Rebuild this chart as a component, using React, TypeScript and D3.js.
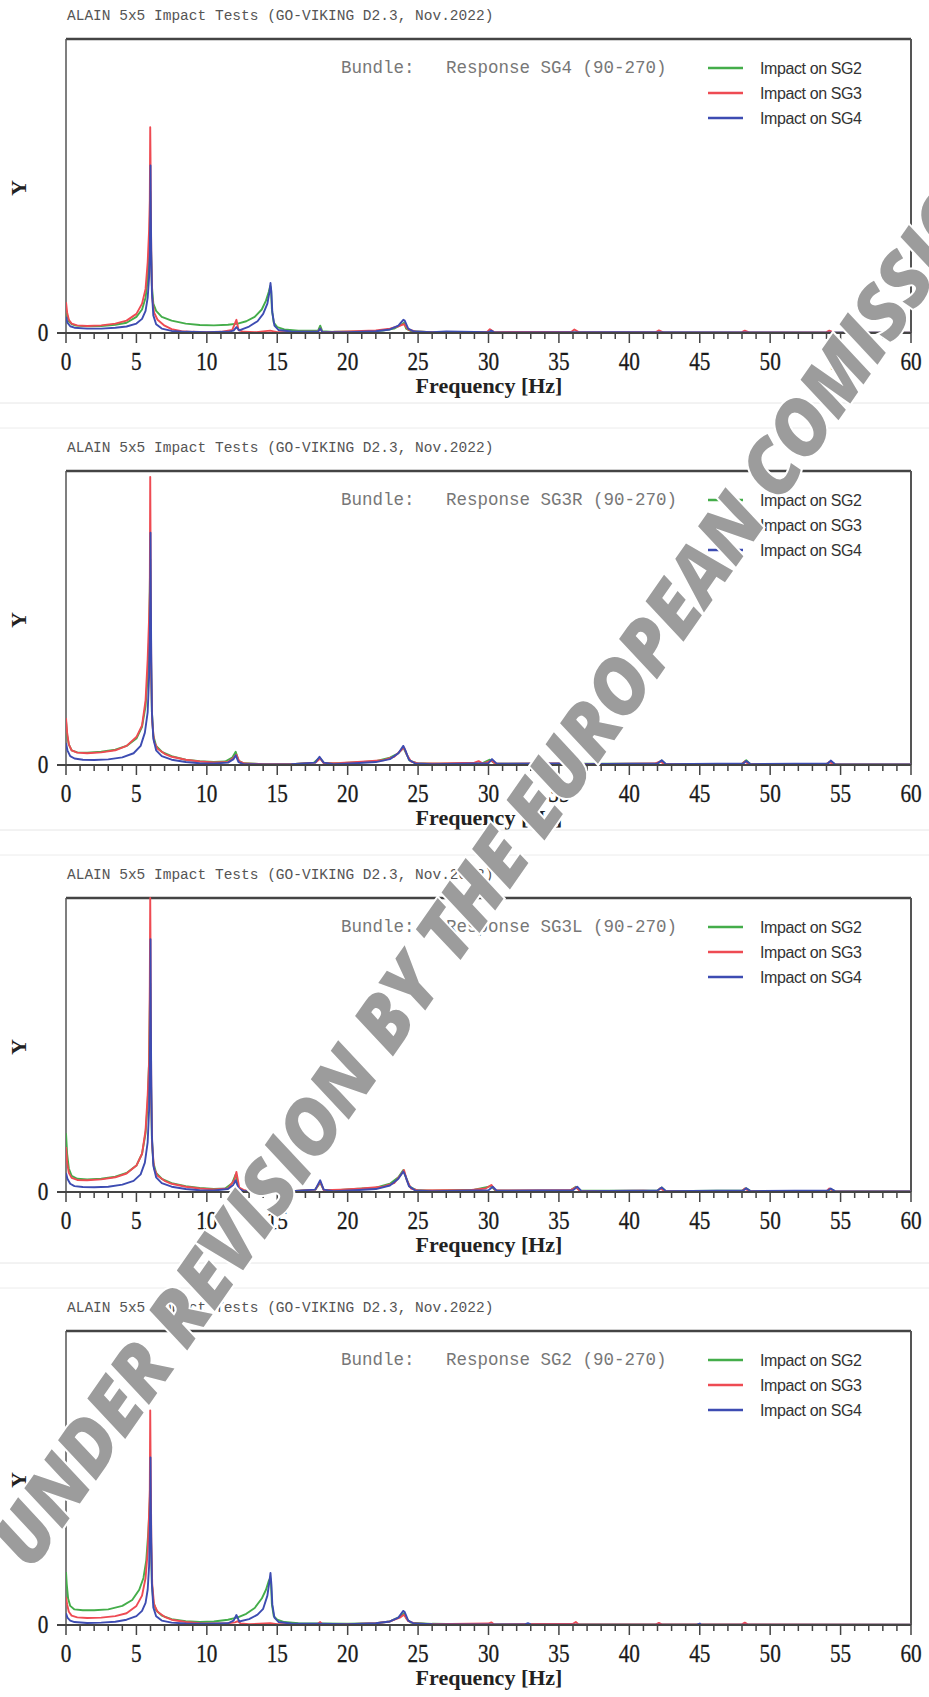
import React from "react";
import * as d3 from "d3";

// ---------- data ----------
const panelTitles = ["Response SG4", "Response SG3R", "Response SG3L", "Response SG2"];
const seriesLabels = ["Impact on SG2", "Impact on SG3", "Impact on SG4"];
const seriesColors = ["#44ad4a", "#ee4b53", "#3d4cb2"];
const xTicks = [0, 5, 10, 15, 20, 25, 30, 35, 40, 45, 50, 55, 60];
const chartTitle = "ALAIN 5x5 Impact Tests (GO-VIKING D2.3, Nov.2022)";

// Panel 1 — Response SG4
const p1Green: [number, number][] = [[0,8],[0.08,6],[0.2,4],[0.4,3],[0.7,2.5],[1.5,2.3],[2.5,2.4],[3.5,2.8],[4.3,3.5],[5,5.5],[5.4,8],[5.65,12],[5.8,18],[5.9,26],[5.95,36],[5.98,48],[6.01,42],[6.04,28],[6.1,16],[6.2,10],[6.4,7.5],[6.8,5.5],[7.5,4.2],[8.5,3.2],[9.5,2.7],[10.5,2.6],[11.5,2.8],[12.2,3.2],[12.8,4],[13.4,5.5],[13.9,8],[14.2,11],[14.4,14],[14.5,16],[14.56,15],[14.62,8],[14.75,3.5],[15,2],[15.5,1.2],[16.5,0.8],[17.9,0.8],[18.05,2.5],[18.2,0.6],[19,0.4],[21,0.5],[22.5,0.8],[23.3,1.5],[23.8,2.8],[24.0,3.5],[24.15,1.5],[24.5,0.6],[26,0.3],[30,0.2],[40,0.1],[60,0.1]];
const p1Red: [number, number][] = [[0,10.5],[0.08,7],[0.2,4.5],[0.4,3.2],[0.8,2.6],[1.5,2.4],[2.5,2.6],[3.5,3.2],[4.3,4.2],[5,6.5],[5.4,10],[5.65,15],[5.8,24],[5.9,35],[5.95,45],[5.98,70],[6.0,60],[6.02,44],[6.06,25],[6.12,12],[6.25,7],[6.5,4.5],[7,2.5],[7.5,1.3],[8.2,0.6],[9,0.4],[10,0.3],[11,0.4],[11.8,1],[12.1,4.5],[12.25,1],[12.6,0.4],[13.5,0.3],[14.5,0.8],[15,0.3],[17.9,0.5],[18.05,1.5],[18.2,0.3],[20,0.5],[22,0.9],[23,1.5],[23.6,2.3],[24.0,3],[24.3,1.2],[24.8,0.5],[26,0.3],[29.9,0.4],[30.1,1.3],[30.4,0.3],[35.9,0.4],[36.1,1.2],[36.4,0.3],[41.9,0.3],[42.1,0.9],[42.4,0.2],[48,0.3],[48.2,0.8],[48.5,0.2],[54,0.3],[54.2,0.8],[54.5,0.2],[60,0.1]];
const p1Blue: [number, number][] = [[0,5.5],[0.1,3.5],[0.3,2.3],[0.6,1.8],[1.5,1.5],[2.5,1.5],[3.5,1.8],[4.3,2.2],[5,3.2],[5.4,4.8],[5.65,7.5],[5.8,12],[5.9,19],[5.95,26],[5.98,40],[6.0,57],[6.02,42],[6.05,28],[6.1,14],[6.2,6],[6.4,3],[6.8,1.5],[7.5,0.7],[8.5,0.4],[10,0.3],[11.5,0.4],[11.9,0.8],[12.1,2],[12.3,0.9],[13,2.2],[13.6,4],[14,6.5],[14.3,10],[14.45,14],[14.52,17],[14.58,14],[14.65,7],[14.8,2.5],[15.1,1],[16,0.5],[17.9,0.4],[18.05,1.5],[18.2,0.3],[20,0.3],[22,0.6],[23,1.2],[23.6,2.5],[23.95,4.5],[24.05,4.2],[24.3,1.5],[24.7,0.5],[26,0.3],[27,0.5],[30,0.3],[30.2,0.8],[30.4,0.2],[39,0.3],[60,0.1]];

// Panel 2 — Response SG3R
const p2Green: [number, number][] = [[0,15],[0.08,10],[0.2,7],[0.4,5],[0.8,4.3],[1.5,4.2],[2.5,4.5],[3.5,5.2],[4.3,6.5],[5,9],[5.4,13],[5.65,20],[5.8,30],[5.9,43],[5.95,60],[5.98,70],[6.01,52],[6.04,35],[6.1,18],[6.2,10],[6.4,6.5],[6.8,4.5],[7.5,3],[8.5,1.8],[9.5,1.3],[10.5,1],[11.3,1.2],[11.8,2.5],[12.05,4.5],[12.25,1.5],[12.6,0.6],[14,0.3],[16,0.3],[17.6,0.8],[18,2.5],[18.3,0.8],[19,0.5],[20.5,0.9],[22,1.3],[23,2.5],[23.6,4],[23.95,6],[24.1,4.5],[24.4,1.5],[24.9,0.6],[26,0.4],[29.5,0.5],[30.1,1.8],[30.5,0.4],[35.8,0.5],[36.1,2],[36.5,0.4],[42,0.4],[42.3,1.5],[42.6,0.3],[48,0.4],[48.3,1.6],[48.6,0.3],[54,0.3],[54.3,1.2],[54.6,0.3],[60,0.2]];
const p2Red: [number, number][] = [[0,16],[0.08,11],[0.2,7],[0.4,5],[0.8,4.2],[1.5,4],[2.5,4.3],[3.5,5],[4.3,6.5],[5,9.5],[5.4,13.5],[5.65,22],[5.8,36],[5.9,50],[5.95,59],[5.98,98],[6.0,80],[6.02,55],[6.06,30],[6.12,15],[6.25,8],[6.5,5.5],[7,3.8],[7.5,2.8],[8.5,1.8],[9.5,1.2],[10.5,0.9],[11.5,1],[11.9,2.5],[12.1,3.5],[12.3,1.2],[12.7,0.5],[14,0.3],[16,0.3],[17.7,0.8],[18.05,2.2],[18.3,0.6],[19.5,0.7],[21,1.1],[22.5,1.6],[23.3,2.8],[23.8,5],[24.0,6],[24.2,3.5],[24.5,1.2],[25,0.5],[26.5,0.5],[29,0.8],[29.3,1.3],[29.6,0.5],[30.2,1.5],[30.5,0.4],[36,0.6],[36.2,1.3],[36.5,0.3],[41.8,0.5],[42.2,1.2],[42.5,0.3],[48,0.3],[48.2,1.2],[48.5,0.3],[54,0.3],[54.2,1],[54.5,0.3],[60,0.2]];
const p2Blue: [number, number][] = [[0,7.5],[0.1,5],[0.3,3],[0.6,2.2],[1.2,1.8],[2,1.7],[3,1.9],[4,2.6],[4.8,4],[5.3,6.5],[5.6,11],[5.8,18],[5.9,30],[5.95,43],[5.98,56],[6.0,79],[6.02,60],[6.05,38],[6.1,18],[6.2,9],[6.4,5],[6.8,3],[7.5,1.8],[8.5,1],[9.5,0.6],[10.5,0.5],[11.5,0.8],[11.9,2],[12.05,3.3],[12.25,1],[12.6,0.3],[14,0.2],[16,0.3],[17.7,0.8],[18.0,2.8],[18.3,0.8],[19,0.3],[20.5,0.6],[22,1],[23,2],[23.6,4],[23.95,6.5],[24.1,5],[24.35,1.8],[24.8,0.5],[26,0.3],[30,0.6],[30.25,2],[30.6,0.4],[36,0.5],[36.3,1.2],[36.6,0.3],[42,0.5],[42.3,1.6],[42.6,0.3],[48.1,0.5],[48.3,1.4],[48.6,0.3],[54.1,0.5],[54.3,1.5],[54.6,0.3],[60,0.2]];

// Panel 3 — Response SG3L
const p3Green: [number, number][] = [[0,20],[0.08,13],[0.2,8],[0.4,5.5],[0.8,4.5],[1.5,4.3],[2.5,4.5],[3.5,5.2],[4.3,6.5],[5,9],[5.4,13],[5.65,20],[5.8,30],[5.9,45],[5.95,62],[5.98,71],[6.01,55],[6.04,36],[6.1,18],[6.2,10],[6.4,6.5],[6.8,4.5],[7.5,3],[8.5,2],[9.5,1.4],[10.5,1],[11.3,1.2],[11.8,3],[12.05,6],[12.25,1.5],[12.6,0.5],[14,0.3],[16,0.3],[17.7,0.8],[18.05,3.2],[18.3,0.7],[19,0.5],[20.5,1],[22,1.5],[23,2.8],[23.6,5],[23.95,7.5],[24.1,5.5],[24.4,1.8],[24.9,0.6],[26,0.4],[29,0.8],[30.2,2],[30.5,0.4],[35.8,0.5],[36.2,1.8],[36.5,0.4],[42,0.5],[42.3,1.5],[42.6,0.3],[48,0.5],[48.3,1.3],[48.6,0.3],[54.1,0.3],[54.3,1],[54.6,0.3],[60,0.2]];
const p3Red: [number, number][] = [[0,15.3],[0.08,10],[0.2,6.5],[0.4,4.8],[0.8,4.1],[1.5,4],[2.5,4.3],[3.5,5],[4.3,6.3],[5,9],[5.4,13],[5.65,21],[5.8,33],[5.9,44],[5.95,70],[5.98,100],[6.0,85],[6.02,60],[6.06,32],[6.12,16],[6.25,8],[6.5,5.5],[7,3.8],[7.5,2.8],[8.5,1.8],[9.5,1.2],[10.5,0.9],[11.5,1.2],[11.95,4],[12.1,6.8],[12.3,1.5],[12.7,0.5],[14,0.3],[16,0.3],[17.7,0.8],[18.05,3.5],[18.3,0.6],[19.5,0.8],[21,1.2],[22.5,1.8],[23.3,3],[23.8,6],[24.0,7.5],[24.2,4],[24.5,1.2],[25,0.5],[28.8,0.7],[29.8,1.2],[30.2,2.4],[30.5,0.5],[35.8,0.6],[36.2,1.6],[36.5,0.3],[41,0.4],[42,0.3],[42.2,1.3],[42.5,0.3],[48,0.3],[48.2,1.2],[48.5,0.3],[54,0.3],[54.2,1.2],[54.5,0.3],[60,0.2]];
const p3Blue: [number, number][] = [[0,6.5],[0.1,4.5],[0.3,2.8],[0.6,2],[1.2,1.7],[2,1.6],[3,1.8],[4,2.5],[4.8,3.8],[5.3,6],[5.6,10],[5.8,17],[5.9,28],[5.95,42],[5.98,59],[6.0,86],[6.02,62],[6.05,40],[6.1,19],[6.2,9],[6.4,5],[6.8,3],[7.5,1.8],[8.5,1],[9.5,0.6],[10.5,0.5],[11.5,1],[11.9,2.5],[12.05,4],[12.25,1.2],[12.6,0.3],[14,0.2],[16,0.3],[17.7,0.8],[18.05,4],[18.3,0.8],[19,0.3],[20.5,0.6],[22,1],[23,2.2],[23.6,4.5],[23.95,7],[24.1,5.5],[24.35,2],[24.8,0.5],[26,0.3],[30,0.6],[30.3,1.8],[30.6,0.4],[36,0.6],[36.3,1.8],[36.6,0.3],[42,0.5],[42.3,1.5],[42.6,0.3],[48.1,0.5],[48.3,1.3],[48.6,0.3],[54.1,0.5],[54.3,1.2],[54.6,0.3],[60,0.2]];

// Panel 4 — Response SG2
const p4Green: [number, number][] = [[0,18],[0.05,14],[0.15,9],[0.3,6.5],[0.6,5.3],[1.2,5],[2,5],[3,5.3],[4,6.5],[4.7,8.5],[5.2,12],[5.5,16],[5.7,22],[5.85,32],[5.95,42],[5.98,47],[6.01,38],[6.05,25],[6.1,14],[6.2,8],[6.4,5],[6.8,3.2],[7.5,2],[8.5,1.3],[9.5,1],[10.5,1.2],[11.5,1.8],[12.2,2.6],[12.8,3.8],[13.4,5.8],[13.9,9],[14.2,12],[14.4,15],[14.5,16],[14.56,14],[14.62,7],[14.75,3],[15,1.8],[15.5,1],[16.5,0.6],[18,0.5],[20,0.4],[22,0.6],[23,1.2],[23.7,2.8],[24.0,4],[24.2,2],[24.5,0.8],[26,0.4],[28,0.3],[30,0.2],[60,0.1]];
const p4Red: [number, number][] = [[0,9.5],[0.08,7],[0.2,4.5],[0.4,3.2],[0.8,2.6],[1.5,2.4],[2.5,2.5],[3.5,3],[4.3,4],[5,6.5],[5.4,10],[5.65,16],[5.8,25],[5.9,38],[5.95,46],[5.98,73],[6.0,60],[6.02,50],[6.06,28],[6.12,14],[6.25,7],[6.5,4.5],[7,2.8],[7.5,1.8],[8.5,1],[9.5,0.6],[10.5,0.5],[11.5,0.6],[12,0.9],[12.2,1.3],[12.4,0.5],[13,0.3],[14.5,0.6],[15,0.3],[17.9,0.4],[18.05,1],[18.2,0.3],[20,0.3],[22,0.6],[23,1.2],[23.7,2.5],[24.0,3.5],[24.3,1.3],[24.8,0.5],[26,0.3],[30,0.5],[30.2,0.9],[30.4,0.2],[36,0.4],[36.2,1],[36.4,0.2],[41.9,0.2],[42.1,0.7],[42.3,0.2],[48,0.2],[48.2,0.8],[48.4,0.2],[60,0.1]];
const p4Blue: [number, number][] = [[0,4],[0.1,2.5],[0.3,1.5],[0.6,1],[1.5,0.7],[2.5,0.8],[3.5,1.1],[4.3,1.8],[5,3],[5.4,4.8],[5.65,7.5],[5.8,12],[5.9,20],[5.95,31],[5.98,40],[6.0,57],[6.02,42],[6.05,30],[6.1,14],[6.2,6],[6.4,3],[6.8,1.5],[7.5,0.8],[8.5,0.5],[10,0.4],[11.5,0.6],[11.9,1.5],[12.1,3.4],[12.3,1.2],[13,2],[13.6,3.5],[14,5.5],[14.3,10],[14.45,15],[14.52,17.7],[14.58,14],[14.65,7],[14.8,2.5],[15.1,1],[16,0.5],[18,0.4],[20,0.3],[22,0.6],[23,1.2],[23.6,2.5],[23.95,4.8],[24.05,4.4],[24.3,1.5],[24.7,0.5],[26,0.3],[30,0.2],[32.6,0.2],[32.8,0.6],[33,0.2],[44.8,0.1],[45,0.5],[45.1,0.1],[60,0.1]];

const panelSeries = [
  [p1Green, p1Red, p1Blue],
  [p2Green, p2Red, p2Blue],
  [p3Green, p3Red, p3Blue],
  [p4Green, p4Red, p4Blue],
];

const watermark = "UNDER REVISION BY THE EUROPEAN COMISSION";

// ---------- layout ----------
const W = 929, H = 1697;
const panelTops = [39, 471, 898, 1331];
const plotH = 294;
const x0 = 66, x1 = 911;

const serif = "'Liberation Serif', 'Times New Roman', serif";
const mono = "'Liberation Mono', 'Courier New', monospace";
const sans = "'Liberation Sans', Arial, sans-serif";

function Panel({ top, idx }: { top: number; idx: number }) {
  const x = d3.scaleLinear().domain([0, 60]).range([x0, x1]);
  const y = d3.scaleLinear().domain([0, 100]).range([top + plotH, top]);
  const line = d3.line<[number, number]>().x(d => x(d[0])).y(d => y(d[1]));
  const zeroY = y(0);
  const minor = d3.range(0, 61, 1);
  const clipId = `clip${idx}`;
  return (
    <g>
      <defs>
        <clipPath id={clipId}>
          <rect x={x0} y={top - 1} width={x1 - x0} height={plotH + 2} />
        </clipPath>
      </defs>
      {idx > 0 && (
        <g>
          <line x1={0} x2={W} y1={top - 68} y2={top - 68} stroke="#e6e6e6" strokeWidth={1} />
          <line x1={0} x2={W} y1={top - 43} y2={top - 43} stroke="#ececec" strokeWidth={1} />
        </g>
      )}
      <text x={67} y={top - 19} fontFamily={mono} fontSize={14.5} fill="#555">{chartTitle}</text>
      {/* frame */}
      <line x1={x0} x2={x1} y1={top} y2={top} stroke="#444" strokeWidth={2.5} />
      <line x1={x0} x2={x0} y1={top} y2={zeroY} stroke="#555" strokeWidth={1.5} />
      <line x1={x1} x2={x1} y1={top} y2={zeroY} stroke="#555" strokeWidth={2} />
      {/* bundle label */}
      <text x={341} y={top + 34} fontFamily={mono} fontSize={17.5} fill="#777" style={{ whiteSpace: "pre" }}>
        {`Bundle:   ${panelTitles[idx]} (90-270)`}
      </text>
      {/* legend */}
      {seriesLabels.map((lab, i) => (
        <g key={lab}>
          <line x1={708} x2={743} y1={top + 29 + i * 25} y2={top + 29 + i * 25} stroke={seriesColors[i]} strokeWidth={2.5} />
          <text x={760} y={top + 29 + i * 25 + 5.5} fontFamily={sans} fontSize={16} fill="#333" letterSpacing={-0.4}>{lab}</text>
        </g>
      ))}
      {/* series */}
      <g clipPath={`url(#${clipId})`}>
        {panelSeries[idx].map((s, i) => (
          <path key={i} d={line(s) || ""} fill="none" stroke={seriesColors[i]} strokeWidth={1.9} strokeLinejoin="round" />
        ))}
      </g>
      {/* x axis */}
      <line x1={57} x2={x1} y1={zeroY} y2={zeroY} stroke="#444" strokeWidth={1.8} />
      {minor.map(t => (
        <line key={t} x1={x(t)} x2={x(t)} y1={zeroY} y2={zeroY + (t % 5 === 0 ? 10 : 6)} stroke="#444" strokeWidth={1.5} />
      ))}
      {xTicks.map(t => (
        <text key={t} transform={`translate(${x(t)},${zeroY + 37}) scale(0.85,1)`} textAnchor="middle" fontFamily={serif} fontSize={25} fill="#1a1a1a" stroke="#1a1a1a" strokeWidth={0.3}>{t}</text>
      ))}
      <text transform={`translate(43,${zeroY + 8}) scale(0.85,1)`} textAnchor="middle" fontFamily={serif} fontSize={25} fill="#1a1a1a" stroke="#1a1a1a" strokeWidth={0.3}>0</text>
      <text x={489} y={zeroY + 60} textAnchor="middle" fontFamily={serif} fontWeight="bold" fontSize={22} fill="#222">Frequency [Hz]</text>
      <text transform={`translate(26,${top + 149}) rotate(-90)`} textAnchor="middle" fontFamily={serif} fontWeight="bold" fontSize={22} fill="#222">Y</text>
    </g>
  );
}

export default function App() {
  return (
    <svg width={W} height={H} viewBox={`0 0 ${W} ${H}`} style={{ position: "absolute", left: 0, top: 0, background: "#fff" }}>
      <rect width={W} height={H} fill="#fff" />
      {panelTops.map((t, i) => (
        <Panel key={i} top={t} idx={i} />
      ))}
      <text
        transform="translate(525,868) rotate(-55)"
        textAnchor="middle"
        fontFamily="'Open Sans', 'Liberation Sans', sans-serif"
        fontWeight={800}
        fontStyle="italic"
        fontSize={76}
        textLength={1720}
        lengthAdjust="spacing"
        fill="#9c9c9c"
        stroke="#fff"
        strokeWidth={4}
        paintOrder="stroke"
      >
        {watermark}
      </text>
    </svg>
  );
}
